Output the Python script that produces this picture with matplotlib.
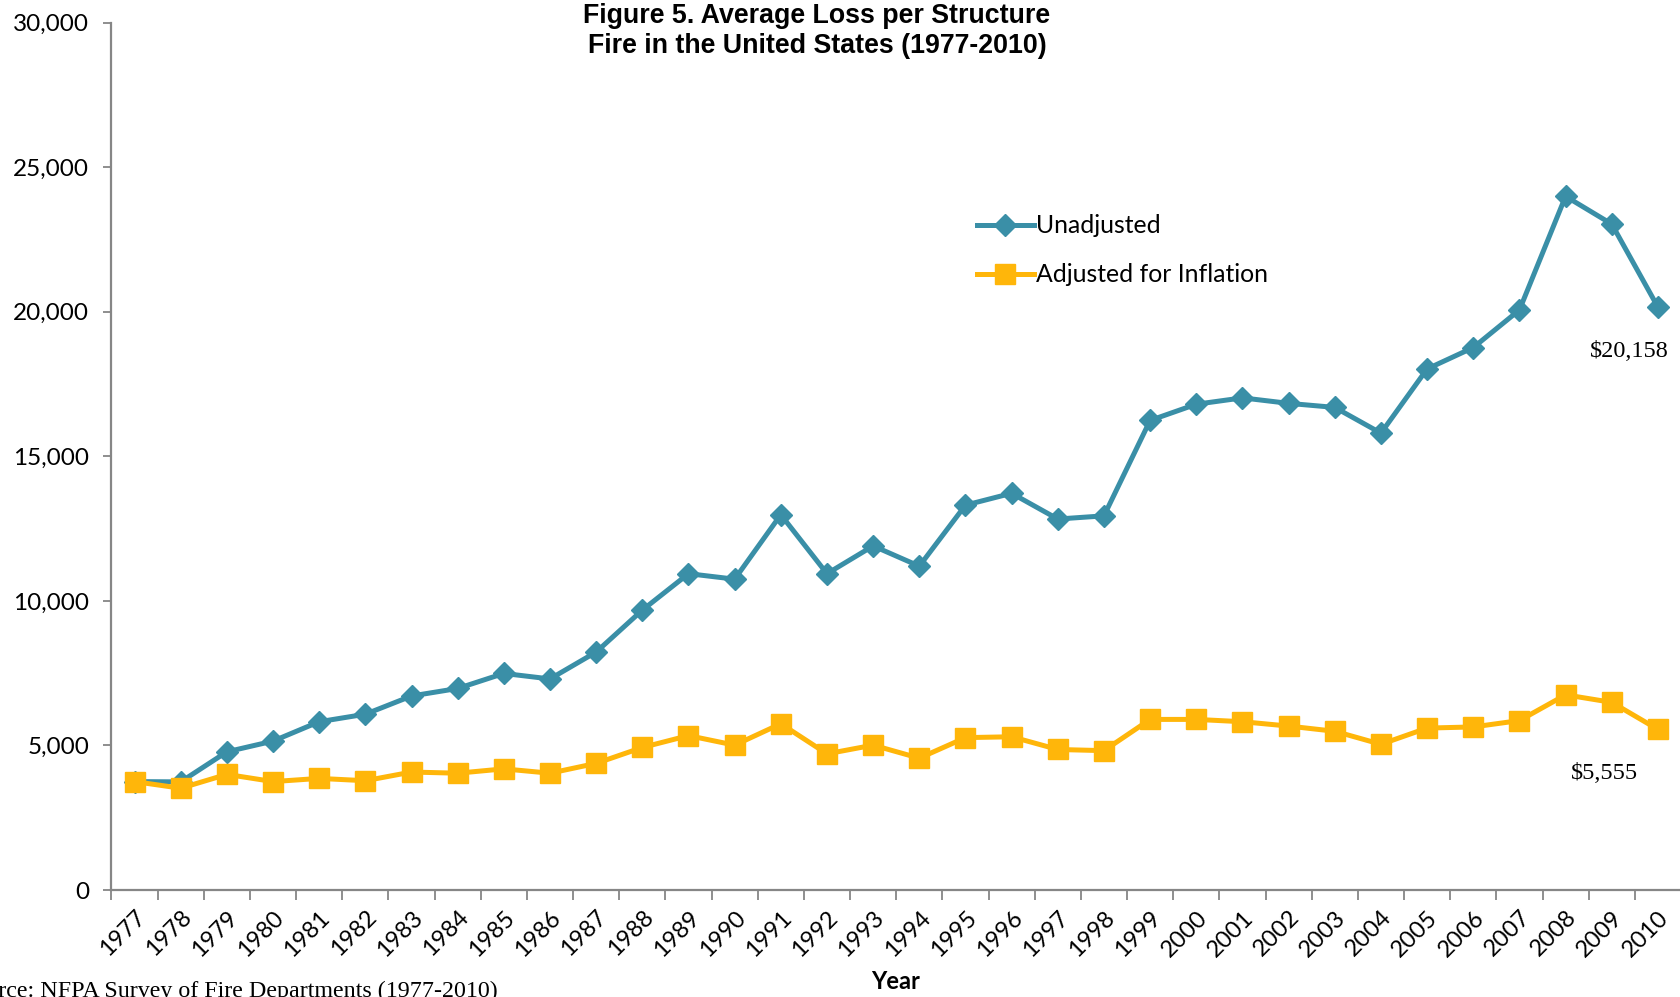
import matplotlib
matplotlib.use("Agg")
import matplotlib.pyplot as plt
from matplotlib.ticker import FixedLocator, FuncFormatter

years = [str(y) for y in range(1977, 2011)]

unadjusted = [3750, 3740, 4780, 5150, 5820, 6080, 6710, 6970, 7490, 7300,
              8230, 9680, 10940, 10750, 12980, 10940, 11900, 11200, 13310, 13720,
              12830, 12940, 16240, 16800, 17020, 16830, 16690, 15800, 18020, 18760,
              20060, 23990, 23030, 20158]

adjusted = [3750, 3520, 4000, 3750, 3860, 3780, 4080, 4040, 4190, 4040,
            4380, 4930, 5340, 5010, 5750, 4710, 5010, 4560, 5270, 5300,
            4860, 4820, 5900, 5900, 5820, 5670, 5490, 5040, 5600, 5640,
            5860, 6750, 6490, 5555]

teal = "#3A8FA7"
gold = "#FFB60A"
grey = "#868686"
tick_font = "Lato"

fig = plt.figure(figsize=(16.81, 9.97), dpi=100)
ax = fig.add_axes([0.0663, 0.1073, 0.9337, 0.8701])

x = list(range(len(years)))
ax.plot(x, unadjusted, "-D", color=teal, lw=3.6, ms=11, mec=teal, label="Unadjusted", zorder=3)
ax.plot(x, adjusted, "-s", color=gold, lw=3.6, ms=15, mec=gold, label="Adjusted for Inflation", zorder=3)

ax.set_xlim(-0.5, len(years) - 0.5)
ax.set_ylim(0, 30000)

# category boundaries get the tick marks, centres get the labels
ax.xaxis.set_major_locator(FixedLocator([i - 0.5 for i in range(len(years) + 1)]))
ax.xaxis.set_minor_locator(FixedLocator(x))
ax.set_xticklabels([])
ax.set_xticklabels(years, minor=True, rotation=45, ha="right", va="top",
                   rotation_mode="anchor", fontsize=17, family=tick_font)
ax.tick_params(axis="x", which="major", length=7, width=1.3, color=grey)
ax.tick_params(axis="x", which="minor", length=0, pad=12)

ax.set_yticks(range(0, 30001, 5000))
ax.yaxis.set_major_formatter(FuncFormatter(lambda v, p: f"{int(v):,}"))
ax.tick_params(axis="y", length=6, width=1.3, color=grey, pad=10)
for lab in ax.get_yticklabels():
    lab.set_fontsize(17.5)
    lab.set_family(tick_font)

for s in ["top", "right"]:
    ax.spines[s].set_visible(False)
for s in ["left", "bottom"]:
    ax.spines[s].set_color(grey)
    ax.spines[s].set_linewidth(1.6)

fig.text(0.486, 0.997, "Figure 5. Average Loss per Structure\nFire in the United States (1977-2010)",
         ha="center", va="top", fontsize=19.3, fontweight="bold", family="Liberation Sans",
         linespacing=1.2)

fig.text(0.533, 0.016, "Year", ha="center", va="center", fontsize=17, fontweight="bold",
         family=tick_font)

# source line sits partly outside the canvas, as in the original figure
fig.text(0.296, 0.006, "Source: NFPA Survey of Fire Departments (1977-2010)", ha="right",
         va="center", fontsize=17.3, family="Liberation Serif")

ax.annotate("$20,158", (len(years) - 1, unadjusted[-1]), xytext=(-29, -44), textcoords="offset pixels",
            ha="center", va="center", fontsize=17.5, family="Liberation Serif")
ax.annotate("$5,555", (len(years) - 1, adjusted[-1]), xytext=(-53, -44), textcoords="offset pixels",
            ha="center", va="center", fontsize=17.5, family="Liberation Serif")

leg = ax.legend(loc="upper left", bbox_to_anchor=(0.581, 0.785), bbox_transform=fig.transFigure,
                frameon=False, handlelength=2.3, handletextpad=0.1, labelspacing=1.05,
                borderpad=0, borderaxespad=0, prop={"family": tick_font, "size": 17.8})

fig.savefig("out.png", dpi=100)
